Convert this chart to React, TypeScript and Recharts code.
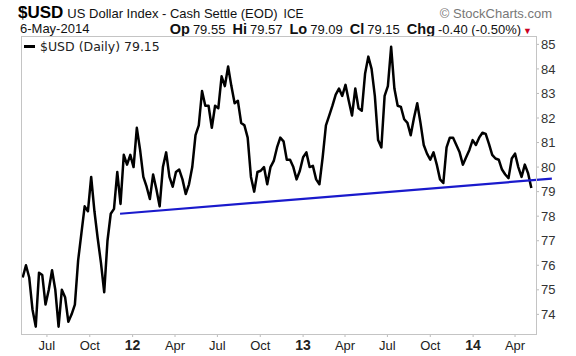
import React from 'react'
import { LineChart, Line, XAxis, YAxis, ReferenceLine } from 'recharts'

const DAY = 86400000

// weekly closes, first week 10-May-2011, last point 6-May-2014
const firstWeek = '2011-05-10'
const usdClose = [
  75.5, 76.0, 75.5, 74.2, 73.5, 75.7, 75.6, 74.4, 75.0, 75.8,
  75.0, 73.5, 75.0, 74.7, 73.7, 74.0, 74.4, 76.2, 77.3, 78.4,
  78.2, 79.6, 78.2, 77.1, 76.1, 74.9, 77.0, 78.1, 78.3, 79.8,
  78.5, 80.5, 80.1, 80.5, 80.0, 81.6, 80.7, 79.6, 79.2, 78.7,
  79.7, 79.1, 78.4, 80.0, 80.6, 79.6, 79.2, 79.8, 79.9, 79.5,
  78.9, 79.3, 80.0, 81.3, 81.7, 83.1, 82.5, 82.5, 81.6, 82.5,
  82.4, 83.7, 83.3, 84.1, 83.3, 82.6, 82.7, 81.8, 81.7, 81.2,
  79.6, 79.0, 79.8, 79.85, 80.0, 79.3, 80.0, 80.25, 80.8, 81.2,
  81.05, 80.3, 80.3, 80.0, 79.5, 79.85, 80.4, 80.6, 80.0, 80.05,
  79.5, 79.3, 80.4, 81.7, 82.1, 82.5, 82.95, 83.2, 82.9, 83.35,
  82.7, 82.1, 83.2, 82.4, 82.3, 83.8, 84.5, 84.0, 82.9, 81.1,
  80.8, 82.9, 83.3, 84.9, 83.2, 82.5, 82.45, 81.95, 81.8, 81.3,
  82.0, 82.6, 81.8, 80.9, 80.55, 80.3, 80.6, 80.1, 79.5, 79.35,
  80.8, 81.2, 81.2, 80.9, 80.6, 80.1, 80.4, 80.7, 81.1, 80.9,
  81.2, 81.4, 81.35, 80.95, 80.5, 80.35, 80.3, 79.9, 79.7, 79.55,
  80.35, 80.55, 80.0, 79.6, 80.1, 79.75, 79.15,
]

const tickDates = [
  '2011-07-01', '2011-10-01', '2012-01-01', '2012-04-01', '2012-07-01', '2012-10-01',
  '2013-01-01', '2013-04-01', '2013-07-01', '2013-10-01', '2014-01-01', '2014-04-01',
]
const tickLabels = ['Jul', 'Oct', '12', 'Apr', 'Jul', 'Oct', '13', 'Apr', 'Jul', 'Oct', '14', 'Apr']
const priceTicks = [74, 75, 76, 77, 78, 79, 80, 81, 82, 83, 84, 85]

// support line drawn on the chart
const trendStart = { date: '2011-12-05', value: 78.1 }
const trendEnd = { date: '2014-06-19', value: 79.53 }

const ts = (d: string) => new Date(d + 'T00:00:00Z').getTime()

const data = usdClose.map((v, i) => ({ t: ts(firstWeek) + i * 7 * DAY, close: v }))
const tickValues = tickDates.map(ts)

const font = "Arial, 'Liberation Sans', sans-serif"

const DateTick = (props: any) => {
  const { x, y, payload } = props
  const idx = tickValues.indexOf(payload.value)
  const label = tickLabels[idx] ?? ''
  const isYear = /^\d+$/.test(label)
  return (
    <text
      x={x}
      y={y}
      dy={11}
      textAnchor="middle"
      fill="#222"
      fontSize={isYear ? 14 : 13}
      fontWeight={isYear ? 'bold' : 'normal'}
      fontFamily={font}
    >
      {label}
    </text>
  )
}

export default function App() {
  return (
    <div style={{ position: 'absolute', left: 0, top: 0, width: 576, height: 356, background: '#fff', fontFamily: font }}>
      {/* header */}
      <div style={{ position: 'absolute', left: 18, top: 3.5, display: 'flex', alignItems: 'baseline', whiteSpace: 'nowrap', color: '#111', lineHeight: 1 }}>
        <span style={{ fontSize: 17, fontWeight: 'bold', color: '#000' }}>$USD</span>
        <span style={{ fontSize: 13, marginLeft: 4 }}>US Dollar Index - Cash Settle (EOD)</span>
        <span style={{ fontSize: 12, marginLeft: 6 }}>ICE</span>
      </div>
      <div style={{ position: 'absolute', right: 24, top: 7, fontSize: 13, lineHeight: 1, color: '#777', whiteSpace: 'nowrap' }}>
        © StockCharts.com
      </div>
      <div style={{ position: 'absolute', left: 20, top: 22, fontSize: 13, lineHeight: 1, color: '#111', whiteSpace: 'nowrap' }}>
        6-May-2014
      </div>
      <div style={{ position: 'absolute', right: 44, top: 21.5, display: 'flex', alignItems: 'baseline', whiteSpace: 'nowrap', color: '#111', lineHeight: 1 }}>
        <b style={{ fontSize: 14.5 }}>Op</b><span style={{ fontSize: 13, marginLeft: 3 }}>79.55</span>
        <b style={{ fontSize: 14.5, marginLeft: 7 }}>Hi</b><span style={{ fontSize: 13, marginLeft: 3 }}>79.57</span>
        <b style={{ fontSize: 14.5, marginLeft: 7 }}>Lo</b><span style={{ fontSize: 13, marginLeft: 3 }}>79.09</span>
        <b style={{ fontSize: 14.5, marginLeft: 7 }}>Cl</b><span style={{ fontSize: 13, marginLeft: 3 }}>79.15</span>
        <b style={{ fontSize: 14.5, marginLeft: 7 }}>Chg</b><span style={{ fontSize: 13, marginLeft: 3 }}>-0.40 (-0.50%)</span>
        <span style={{ fontSize: 9, color: '#cc0022', marginLeft: 2 }}>▼</span>
      </div>

      <LineChart
        width={576}
        height={356}
        data={data}
        margin={{ top: 37, right: 0, bottom: 0, left: 21 }}
        style={{ position: 'absolute', left: 0, top: 0 }}
      >
        <XAxis
          dataKey="t"
          type="number"
          scale="time"
          domain={[Date.UTC(2011, 4, 6, 8), Date.UTC(2014, 4, 16)]}
          ticks={tickValues}
          tick={<DateTick />}
          height={22}
          axisLine={false}
          tickLine={{ stroke: '#bbb' }}
          tickSize={3}
          interval={0}
        />
        <YAxis
          orientation="right"
          domain={[73.2, 85.3]}
          ticks={priceTicks}
          width={40}
          axisLine={false}
          tickLine={{ stroke: '#bbb' }}
          tickSize={3}
          tickMargin={2}
          tick={{ fill: '#333', fontSize: 13, fontFamily: font }}
          interval={0}
        />
        <Line
          type="linear"
          dataKey="close"
          stroke="#000"
          strokeWidth={2.5}
          strokeLinejoin="round"
          dot={false}
          isAnimationActive={false}
        />
        <ReferenceLine
          segment={[
            { x: ts(trendStart.date), y: trendStart.value },
            { x: ts(trendEnd.date), y: trendEnd.value },
          ]}
          stroke="#1a1acc"
          strokeWidth={2.2}
          ifOverflow="visible"
        />
      </LineChart>

      {/* plot frame */}
      <div style={{ position: 'absolute', left: 21, top: 36, width: 516, height: 299, border: '1px solid #c4c4c4', boxSizing: 'border-box', pointerEvents: 'none' }} />

      {/* legend */}
      <div style={{ position: 'absolute', left: 24, top: 39, display: 'flex', alignItems: 'center', whiteSpace: 'nowrap', fontFamily: "'DejaVu Sans', Verdana, sans-serif", fontSize: 12.5, color: '#222' }}>
        <span style={{ display: 'inline-block', width: 11, height: 3, background: '#000', marginRight: 5 }} />
        $USD (Daily) 79.15
      </div>
    </div>
  )
}
